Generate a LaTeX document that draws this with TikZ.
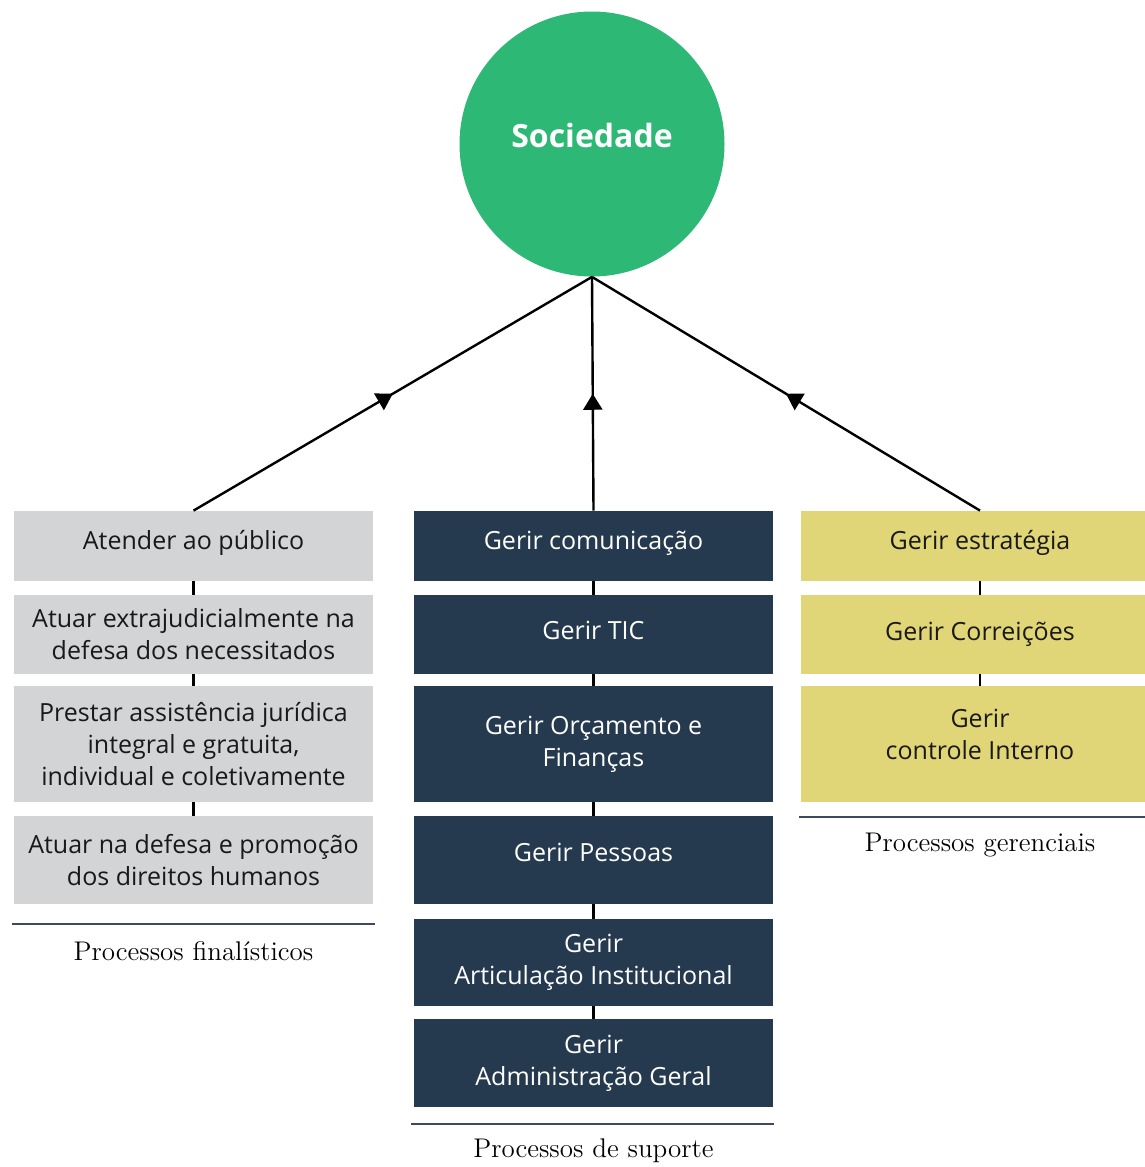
\documentclass[tikz,border=0pt]{standalone}
\usepackage{fontspec}
\newfontfamily\boxfont{Open Sans}
\usetikzlibrary{arrows.meta,decorations.markings}

\definecolor{socgreen}{HTML}{2DB875}
\definecolor{fingray}{HTML}{D3D4D6}
\definecolor{supnavy}{HTML}{263A4F}
\definecolor{gerYellow}{HTML}{E0D577}
\definecolor{ruleslate}{HTML}{3B4A5E}

\tikzset{
  procbox/.style={rectangle, minimum width=179.5pt, inner sep=2pt, align=center,
    font=\boxfont\fontsize{12.5}{16}\selectfont},
  finbox/.style={procbox, fill=fingray, text=black!90},
  supbox/.style={procbox, fill=supnavy, text=white},
  gerbox/.style={procbox, fill=gerYellow, text=black!90},
  link/.style={line width=1.2pt, black},
  uparrow/.style={link, postaction={decorate}, decoration={markings,
    mark=at position 0.5 with {\arrow{Triangle[length=8pt,width=9.5pt]}}}},
  secrule/.style={line width=1.4pt, ruleslate},
  caption/.style={font=\fontsize{13.5}{16}\selectfont}
}

\begin{document}
\begin{tikzpicture}[x=0.5pt, y=-0.5pt]
    \clip (0,0) rectangle (1145,1167);

    % Sociedade
    \node[circle, fill=socgreen, minimum size=132.5pt, inner sep=0pt, text=white, text depth=9pt,
      font=\boxfont\bfseries\fontsize{16}{20}\selectfont] (soc) at (592,144) {Sociedade};

    % Processos finalisticos
    \node[finbox, minimum height=35pt, text depth=6pt] (fin1) at (193.5,546) {Atender ao público};
    \node[finbox, minimum height=39.5pt] (fin2) at (193.5,634.5) {Atuar extrajudicialmente na\\defesa dos necessitados};
    \node[finbox, minimum height=58pt] (fin3) at (193.5,744) {Prestar assistência jurídica\\integral e gratuita,\\individual e coletivamente};
    \node[finbox, minimum height=44pt] (fin4) at (193.5,860) {Atuar na defesa e promoção\\dos direitos humanos};

    % Processos de suporte
    \node[supbox, minimum height=35pt, text depth=6pt] (sup1) at (593.5,546) {Gerir comunicação};
    \node[supbox, minimum height=39.5pt, text depth=4pt] (sup2) at (593.5,634.5) {Gerir TIC};
    \node[supbox, minimum height=58pt] (sup3) at (593.5,744) {Gerir Orçamento e\\Finanças};
    \node[supbox, minimum height=44pt, text depth=8pt] (sup4) at (593.5,860) {Gerir Pessoas};
    \node[supbox, minimum height=43.5pt] (sup5) at (593.5,962.5) {Gerir\\Articulação Institucional};
    \node[supbox, minimum height=44pt] (sup6) at (593.5,1063) {Gerir\\Administração Geral};

    % Processos gerenciais
    \node[gerbox, minimum height=35pt, text depth=6pt] (ger1) at (980,546) {Gerir estratégia};
    \node[gerbox, minimum height=39.5pt] (ger2) at (980,634.5) {Gerir Correições};
    \node[gerbox, minimum height=58pt, text depth=10pt] (ger3) at (980,744) {Gerir\\controle Interno};

    % Connections
    \draw[uparrow] (fin1.north) -- (soc.south);
    \draw[uparrow] (sup1.north) -- (soc.south);
    \draw[uparrow] (ger1.north) -- (soc.south);

    \draw[link] (fin1.south) -- (fin2.north);
    \draw[link] (fin2.south) -- (fin3.north);
    \draw[link] (fin3.south) -- (fin4.north);

    \draw[link] (sup1.south) -- (sup2.north);
    \draw[link] (sup2.south) -- (sup3.north);
    \draw[link] (sup3.south) -- (sup4.north);
    \draw[link] (sup4.south) -- (sup5.north);
    \draw[link] (sup5.south) -- (sup6.north);

    \draw[link] (ger1.south) -- (ger2.north);
    \draw[link] (ger2.south) -- (ger3.north);

    % Captions
    \draw[secrule] (12,924) -- (375,924);
    \node[caption] (capfin) at (193.5,951) {Processos finalísticos};
    \draw[secrule] (411,1124) -- (774,1124);
    \node[caption] (capsup) at (593.5,1151) {Processos de suporte};
    \draw[secrule] (799,817) -- (1145,817);
    \node[caption] (capger) at (980,845) {Processos gerenciais};

\end{tikzpicture}
\end{document}
